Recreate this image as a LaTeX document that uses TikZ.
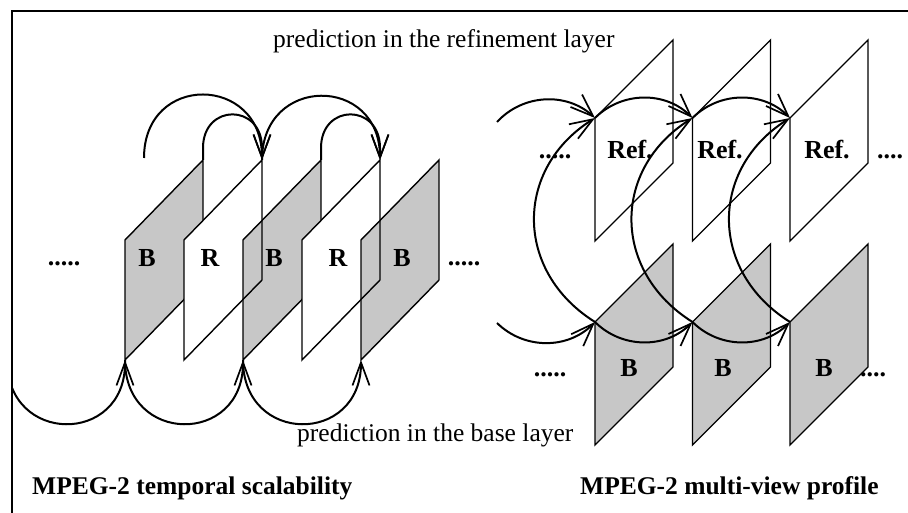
\documentclass[tikz,border=0pt]{standalone}
\usepackage{fontspec}
\setmainfont{Liberation Serif}
\usetikzlibrary{arrows.meta}
\begin{document}
\begin{tikzpicture}[x=1pt,y=1pt,
  panel/.style={line width=1.4pt, line join=miter},
  bpanel/.style={panel, fill=black, fill opacity=0.22},
  rpanel/.style={panel, fill=white},
  gpanel/.style={panel, fill=black!22},
  arcline/.style={line width=2pt, -{Straight Barb[length=23pt,width=17pt,line width=1.7pt]}},
  lab/.style={font=\fontsize{26}{30}\selectfont\bfseries, inner sep=0pt, anchor=base},
  captiontext/.style={font=\fontsize{25.5}{30}\selectfont\bfseries, inner sep=0pt, anchor=base west},
  txt/.style={font=\fontsize{25.5}{30}\selectfont, inner sep=0pt, anchor=base west}]
\useasboundingbox (0,0) rectangle (908,513);
% frame
\coordinate (fa) at (12,0);
\coordinate (fb) at (12,502);
\coordinate (fc) at (908,502);
\draw[line width=1.2pt] (fa) -- (fb) -- (fc);

% ---------- left diagram: temporal scalability ----------
\foreach \i/\s in {0/bpanel,1/rpanel,2/bpanel,3/rpanel,4/bpanel}{
  \pgfmathsetmacro\xx{125+59*\i}
  \draw[\s] (\xx,153) coordinate (L\i bl) -- (\xx,273) coordinate (L\i tl)
    -- (\xx+78,353) coordinate (L\i tr) -- (\xx+78,233) coordinate (L\i br) -- cycle;
}
\node[lab] (lb1) at (147,246) {B};
\node[lab] (lr1) at (210,246) {R};
\node[lab] (lb2) at (274,246) {B};
\node[lab] (lr2) at (338,246) {R};
\node[lab] (lb3) at (402,246) {B};
\node[lab] (ld1) at (64,247) {.....};
\node[lab] (ld2) at (464,247) {.....};

% top arcs (refinement layer)
\coordinate (s0) at (144,355);
\draw[arcline] (s0) to[out=90,in=90,looseness=1.85] (L1tr);
\draw[arcline] (L1tr) to[out=90,in=90,looseness=1.85] (L3tr);
\draw[arcline] (L0tr) -- ([yshift=12pt]L0tr) to[out=90,in=90,looseness=1.95] ([yshift=12pt]L1tr) -- (L1tr);
\draw[arcline] (L2tr) -- ([yshift=12pt]L2tr) to[out=90,in=90,looseness=1.95] ([yshift=12pt]L3tr) -- (L3tr);
% bottom arcs (base layer)
\begin{scope}
  \clip (12,0) rectangle (908,513);
  \coordinate (s1) at (7,153);
  \draw[arcline] (s1) to[out=-90,in=-90,looseness=1.85] (L0bl);
\end{scope}
\draw[arcline] (L0bl) to[out=-90,in=-90,looseness=1.85] (L2bl);
\draw[arcline] (L2bl) to[out=-90,in=-90,looseness=1.85] (L4bl);

% ---------- right diagram: multi-view profile ----------
\foreach \i in {1,2,3}{
  \pgfmathsetmacro\xx{595+97.5*(\i-1)}
  \draw[rpanel] (\xx,272) coordinate (R\i bl) -- (\xx,395) coordinate (R\i tl)
    -- (\xx+78,473) coordinate (R\i tr) -- (\xx+78,350) coordinate (R\i br) -- cycle;
  \draw[gpanel] (\xx,68) coordinate (B\i bl) -- (\xx,191) coordinate (B\i tl)
    -- (\xx+78,269) coordinate (B\i tr) -- (\xx+78,146) coordinate (B\i br) -- cycle;
}
\node[lab] (rf1) at (630,354) {Ref.};
\node[lab] (rf2) at (720,354) {Ref.};
\node[lab] (rf3) at (827,354) {Ref.};
\node[lab] (rd1) at (555,354) {.....};
\node[lab] (rd2) at (890,354) {....};
\node[lab] (rb1) at (629,136) {B};
\node[lab] (rb2) at (723,136) {B};
\node[lab] (rb3) at (824,136) {B};
\node[lab] (rd3) at (550,136) {.....};
\node[lab] (rd4) at (873,136) {....};

\coordinate (rt0) at (497,391);
\coordinate (rb0) at (497,190);
\draw[arcline] (rt0) to[bend left=45] (R1tl);
\draw[arcline] (R1tl) to[bend left=45] (R2tl);
\draw[arcline] (R2tl) to[bend left=45] (R3tl);
\draw[arcline] (rb0) to[bend right=45] (B1tl);
\draw[arcline] (B1tl) to[bend right=45] (B2tl);
\draw[arcline] (B2tl) to[bend right=45] (B3tl);
\foreach \i in {1,2,3}{
  \draw[arcline] (B\i tl) to[bend left=58,looseness=1.2] (R\i tl);
}

% ---------- texts ----------
\node[txt] (t1) at (273,465) {prediction in the refinement layer};
\node[txt] (t2) at (297,71) {prediction in the base layer};
\node[captiontext] (c1) at (32,18) {MPEG-2 temporal scalability};
\node[captiontext] (c2) at (580,18) {MPEG-2 multi-view profile};
\end{tikzpicture}
\end{document}
